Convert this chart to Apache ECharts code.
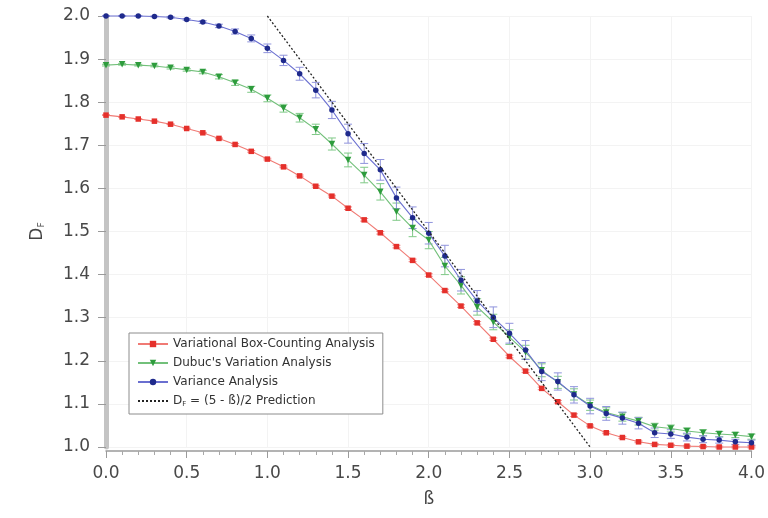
<!DOCTYPE html>
<html>
<head>
<meta charset="utf-8">
<script src="https://cdn.jsdelivr.net/npm/echarts@6/dist/echarts.min.js"></script>
<style>
  html, body { margin: 0; padding: 0; background: #ffffff; }
  #chart { width: 768px; height: 518px; }
</style>
</head>
<body>
<div id="chart"></div>
<script>
// Spectral exponent ß
const beta = [0.0, 0.1, 0.2, 0.3, 0.4, 0.5, 0.6, 0.7, 0.8, 0.9,
              1.0, 1.1, 1.2, 1.3, 1.4, 1.5, 1.6, 1.7, 1.8, 1.9,
              2.0, 2.1, 2.2, 2.3, 2.4, 2.5, 2.6, 2.7, 2.8, 2.9,
              3.0, 3.1, 3.2, 3.3, 3.4, 3.5, 3.6, 3.7, 3.8, 3.9, 4.0];

// Variational Box-Counting Analysis
const vbcaValues = [1.770, 1.766, 1.761, 1.756, 1.749, 1.739, 1.729, 1.716, 1.702, 1.686,
                    1.668, 1.650, 1.629, 1.605, 1.582, 1.554, 1.527, 1.497, 1.465, 1.433,
                    1.399, 1.363, 1.327, 1.288, 1.250, 1.210, 1.176, 1.136, 1.105, 1.074,
                    1.049, 1.033, 1.022, 1.012, 1.006, 1.004, 1.002, 1.001, 1.000, 1.000, 1.000];
const vbcaErrors = [0.001, 0.001, 0.001, 0.001, 0.001, 0.001, 0.001, 0.001, 0.002, 0.002,
                    0.002, 0.002, 0.002, 0.002, 0.002, 0.003, 0.003, 0.003, 0.003, 0.003,
                    0.003, 0.003, 0.003, 0.003, 0.003, 0.003, 0.003, 0.003, 0.003, 0.003,
                    0.002, 0.002, 0.002, 0.002, 0.002, 0.002, 0.002, 0.002, 0.002, 0.002, 0.002];

// Dubuc's Variation Analysis
const dubucValues = [1.886, 1.888, 1.886, 1.884, 1.880, 1.875, 1.870, 1.859, 1.845, 1.830,
                     1.809, 1.786, 1.764, 1.737, 1.703, 1.666, 1.631, 1.592, 1.546, 1.508,
                     1.480, 1.420, 1.375, 1.325, 1.290, 1.255, 1.220, 1.178, 1.150, 1.122,
                     1.097, 1.080, 1.070, 1.060, 1.047, 1.043, 1.037, 1.033, 1.030, 1.028, 1.024];
const dubucErrors = [0.002, 0.002, 0.002, 0.002, 0.003, 0.003, 0.004, 0.005, 0.006, 0.007,
                     0.008, 0.009, 0.010, 0.012, 0.014, 0.016, 0.018, 0.019, 0.020, 0.020,
                     0.020, 0.020, 0.020, 0.019, 0.018, 0.017, 0.016, 0.015, 0.014, 0.013,
                     0.012, 0.011, 0.010, 0.009, 0.008, 0.008, 0.007, 0.007, 0.006, 0.006, 0.006];

// Variance Analysis
const varianceValues = [2.000, 2.000, 2.000, 1.999, 1.997, 1.992, 1.986, 1.977, 1.964, 1.948,
                        1.925, 1.897, 1.866, 1.828, 1.782, 1.727, 1.681, 1.643, 1.578, 1.532,
                        1.496, 1.443, 1.387, 1.339, 1.301, 1.264, 1.225, 1.175, 1.152, 1.121,
                        1.095, 1.078, 1.067, 1.055, 1.033, 1.030, 1.023, 1.018, 1.016, 1.012, 1.010];
const varianceErrors = [0.001, 0.001, 0.001, 0.001, 0.002, 0.002, 0.003, 0.004, 0.006, 0.008,
                        0.010, 0.012, 0.015, 0.018, 0.020, 0.022, 0.023, 0.024, 0.025, 0.025,
                        0.025, 0.025, 0.025, 0.024, 0.024, 0.023, 0.022, 0.021, 0.020, 0.019,
                        0.018, 0.016, 0.014, 0.013, 0.011, 0.010, 0.009, 0.008, 0.007, 0.006, 0.006];

// Theoretical relation D_F = (5 - ß)/2
const predictionBeta = [1.0, 3.0];
const predictionValues = [2.0, 1.0];

const seriesNames = ['Variational Box-Counting Analysis', "Dubuc's Variation Analysis",
                     'Variance Analysis', 'Prediction'];

const FONT = 'DejaVu Sans';

function pairs(xs, ys) { return xs.map((x, i) => [x, ys[i]]); }
function triples(xs, ys, es) { return xs.map((x, i) => [x, ys[i], es[i]]); }

// vertical error bar with short caps
function errorBars(name, values, errors, color, z) {
  return {
    type: 'custom',
    name: name + ' error',
    data: triples(beta, values, errors),
    encode: { x: 0, y: 1 },
    z: z,
    silent: true,
    clip: false,
    renderItem: function (params, api) {
      const x = api.value(0), y = api.value(1), e = api.value(2);
      const hi = api.coord([x, y + e]);
      const lo = api.coord([x, y - e]);
      const hw = 4;
      const st = { stroke: color, lineWidth: 1 };
      return {
        type: 'group',
        children: [
          { type: 'line', shape: { x1: hi[0], y1: hi[1], x2: lo[0], y2: lo[1] }, style: st },
          { type: 'line', shape: { x1: hi[0] - hw, y1: hi[1], x2: hi[0] + hw, y2: hi[1] }, style: st },
          { type: 'line', shape: { x1: lo[0] - hw, y1: lo[1], x2: lo[0] + hw, y2: lo[1] }, style: st }
        ]
      };
    }
  };
}

const chart = echarts.init(document.getElementById('chart'));

chart.setOption({
  backgroundColor: '#ffffff',
  animation: false,
  grid: { left: 106, right: 12, top: 16, bottom: 71, containLabel: false },
  xAxis: {
    type: 'value',
    min: 0, max: 4, interval: 0.5,
    offset: 4,
    name: 'ß',
    nameLocation: 'middle',
    nameGap: 40,
    nameTextStyle: { fontFamily: FONT, fontSize: 17, color: '#444' },
    axisLine: { show: true, lineStyle: { color: '#9a9a9a', width: 1.5 } },
    axisTick: { show: true, length: 7, lineStyle: { color: '#9a9a9a', width: 1 } },
    minorTick: { show: true, splitNumber: 5, length: 4, lineStyle: { color: '#a8a8a8', width: 1 } },
    splitLine: { show: true, lineStyle: { color: '#f3f3f3', width: 1 } },
    axisLabel: {
      fontFamily: FONT, fontSize: 17, color: '#484848', margin: 14,
      formatter: v => v.toFixed(1)
    }
  },
  yAxis: {
    type: 'value',
    min: 1.0, max: 2.0, interval: 0.1,
    name: '{d|D}{f|F}',
    nameLocation: 'middle',
    nameGap: 60,
    nameRotate: 90,
    nameTextStyle: {
      fontFamily: FONT, color: '#444',
      rich: {
        d: { fontFamily: FONT, fontSize: 17, color: '#444' },
        f: { fontFamily: FONT, fontSize: 9, color: '#444', verticalAlign: 'bottom', padding: [8, 0, 0, 0] }
      }
    },
    axisLine: { show: true, lineStyle: { color: '#c4c4c4', width: 5 } },
    axisTick: { show: true, length: 8, lineStyle: { color: '#9a9a9a', width: 1 } },
    splitLine: { show: true, lineStyle: { color: '#f3f3f3', width: 1 } },
    axisLabel: {
      fontFamily: FONT, fontSize: 17, color: '#484848', margin: 16,
      formatter: v => v.toFixed(1)
    }
  },
  legend: {
    data: [
      seriesNames[0], seriesNames[1], seriesNames[2],
      { name: seriesNames[3], itemStyle: { color: 'rgba(0,0,0,0)', borderWidth: 0 } }
    ],
    orient: 'vertical',
    left: 129, top: 333,
    padding: [4, 8, 6, 8],
    itemGap: 5,
    itemWidth: 30,
    itemHeight: 8,
    borderColor: '#8c8c8c',
    borderWidth: 1,
    backgroundColor: '#ffffff',
    selectedMode: false,
    textStyle: {
      fontFamily: FONT, fontSize: 12, color: '#333', lineHeight: 14,
      rich: {
        t: { fontFamily: FONT, fontSize: 12, color: '#333' },
        s: { fontFamily: FONT, fontSize: 7, color: '#333', verticalAlign: 'bottom', padding: [5, 0, 0, 0] }
      }
    },
    formatter: function (name) {
      if (name === 'Prediction') return '{t|D}{s|F}{t| = (5 - ß)/2 Prediction}';
      return name;
    }
  },
  series: [
    errorBars('vbca', vbcaValues, vbcaErrors, '#f08a8a', 2),
    errorBars('dubuc', dubucValues, dubucErrors, '#7fc987', 3),
    errorBars('variance', varianceValues, varianceErrors, '#8f93dc', 4),
    {
      name: seriesNames[0],
      type: 'line',
      data: pairs(beta, vbcaValues),
      symbol: 'rect', symbolSize: 5.5,
      clip: false, z: 5,
      lineStyle: { color: '#f07a74', width: 1.1 },
      itemStyle: { color: '#e5302b' }
    },
    {
      name: seriesNames[1],
      type: 'line',
      data: pairs(beta, dubucValues),
      symbol: 'triangle', symbolSize: 6.5, symbolRotate: 180,
      clip: false, z: 6,
      lineStyle: { color: '#72c07a', width: 1.1 },
      itemStyle: { color: '#2e9c3d' }
    },
    {
      name: seriesNames[2],
      type: 'line',
      data: pairs(beta, varianceValues),
      symbol: 'circle', symbolSize: 5.5,
      clip: false, z: 7,
      lineStyle: { color: '#6a6fd0', width: 1.1 },
      itemStyle: { color: '#1f2a8c' }
    },
    {
      name: seriesNames[3],
      type: 'line',
      data: pairs(predictionBeta, predictionValues),
      symbol: 'none',
      clip: false, z: 8,
      lineStyle: { color: '#222', width: 1.3, type: [2, 2] },
      itemStyle: { color: 'rgba(0,0,0,0)' }
    }
  ]
});
</script>
</body>
</html>
